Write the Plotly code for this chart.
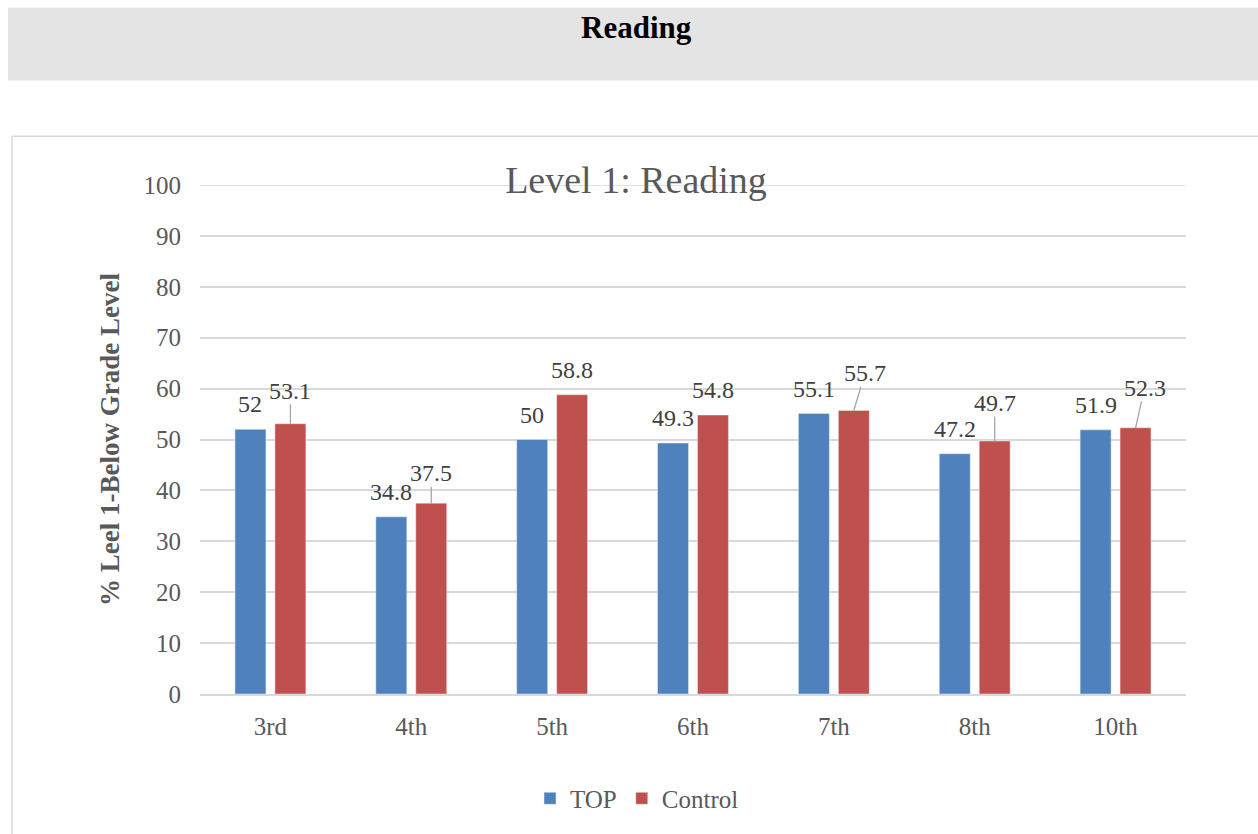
import plotly.graph_objects as go

# Reading results by grade, percent of students at Level 1 (below grade level)
grades = ["3rd", "4th", "5th", "6th", "7th", "8th", "10th"]
top_pct = [52, 34.8, 50, 49.3, 55.1, 47.2, 51.9]
control_pct = [53.1, 37.5, 58.8, 54.8, 55.7, 49.7, 52.3]
y_ticks = [0, 10, 20, 30, 40, 50, 60, 70, 80, 90, 100]

BLUE = "#4F81BD"
RED = "#C0504D"
AXIS_GRAY = "#595959"
LABEL_GRAY = "#404040"
GRID = "#d9d9d9"
SERIF = "Liberation Serif, Times New Roman, serif"

# pixel geometry of the plot area
W, H = 1258, 834
L, R, T, B = 200, 72, 185, 138
PW, PH = W - L - R, H - T - B


def px_x(p):
    return (p - L) / PW


def px_y(p):
    return (H - B - p) / PH


fig = go.Figure()
fig.add_bar(name="TOP", x=grades, y=top_pct, marker_color=BLUE)
fig.add_bar(name="Control", x=grades, y=control_pct, marker_color=RED)

BAR_SHIFT = 20  # half of one bar slot, in pixels

annotations = []
# TOP labels sit straight above their bars
for g, v in zip(grades, top_pct):
    annotations.append(dict(
        x=g, y=v, text=f"{v:g}", showarrow=False, xshift=-BAR_SHIFT,
        yshift=25, yanchor="middle",
        font=dict(family=SERIF, size=24, color=LABEL_GRAY)))

# Control labels: some are pulled up and tied back with a leader line
leaders = {"3rd": (0, -33), "4th": (0, -30), "7th": (11, -37),
           "8th": (0, -38), "10th": (9, -40)}
for g, v in zip(grades, control_pct):
    if g in leaders:
        ax, ay = leaders[g]
        annotations.append(dict(
            x=g, y=v, text=f"{v:g}", showarrow=True, arrowhead=0,
            arrowwidth=1.3, arrowcolor="#a6a6a6", ax=ax, ay=ay,
            standoff=0, borderpad=0, xshift=BAR_SHIFT,
            font=dict(family=SERIF, size=24, color=LABEL_GRAY)))
    else:
        annotations.append(dict(
            x=g, y=v, text=f"{v:g}", showarrow=False, xshift=BAR_SHIFT,
            yshift=25, yanchor="middle",
            font=dict(family=SERIF, size=24, color=LABEL_GRAY)))

# page heading
annotations.append(dict(
    xref="paper", yref="paper", x=px_x(636), y=px_y(27), text="<b>Reading</b>",
    showarrow=False, xanchor="center", yanchor="middle",
    font=dict(family=SERIF, size=31, color="#000000")))

shapes = [
    # heading band
    dict(type="rect", xref="paper", yref="paper", layer="below",
         x0=px_x(8), x1=px_x(1262), y0=px_y(80), y1=px_y(7),
         fillcolor="#e4e4e4", line=dict(width=0)),
    # chart frame
    dict(type="rect", xref="paper", yref="paper", layer="below",
         x0=px_x(12), x1=px_x(1275), y0=px_y(850), y1=px_y(136),
         fillcolor="rgba(0,0,0,0)", line=dict(color=GRID, width=1.5)),
    # gridline at the top of the value range (plotly skips it at the edge)
    dict(type="line", xref="paper", yref="y", layer="below",
         x0=0, x1=1, y0=y_ticks[-1], y1=y_ticks[-1],
         line=dict(color=GRID, width=1.5)),
]

fig.update_layout(
    width=W, height=H,
    margin=dict(l=L, r=R, t=T, b=B),
    paper_bgcolor="white", plot_bgcolor="white",
    barmode="group", bargap=0.433, bargroupgap=0.225,
    title=dict(text="Level 1: Reading", xref="container", yref="container",
               x=636 / W, y=1 - 180 / H, xanchor="center", yanchor="middle",
               font=dict(family=SERIF, size=38, color=AXIS_GRAY)),
    font=dict(family=SERIF, color=AXIS_GRAY),
    legend=dict(orientation="h", x=px_x(637), y=px_y(801),
                xanchor="center", yanchor="middle",
                font=dict(family=SERIF, size=25, color=AXIS_GRAY),
                itemwidth=30, bgcolor="rgba(0,0,0,0)"),
    annotations=annotations,
    shapes=shapes,
    showlegend=True,
)

fig.update_xaxes(
    showline=True, linecolor=GRID, linewidth=1.5, ticks="",
    tickfont=dict(family=SERIF, size=25, color=AXIS_GRAY),
    ticklabelstandoff=9, showgrid=False, zeroline=False)

fig.update_yaxes(
    range=[0, 100], tickvals=y_ticks, showgrid=True, gridcolor=GRID,
    gridwidth=1.5, zeroline=False, showline=False, ticks="",
    tickfont=dict(family=SERIF, size=25, color=AXIS_GRAY),
    ticklabelstandoff=18,
    title=dict(text="<b>% Leel 1-Below Grade Level</b>", standoff=16,
               font=dict(family=SERIF, size=27, color=AXIS_GRAY)))

fig.write_html("out.html")
